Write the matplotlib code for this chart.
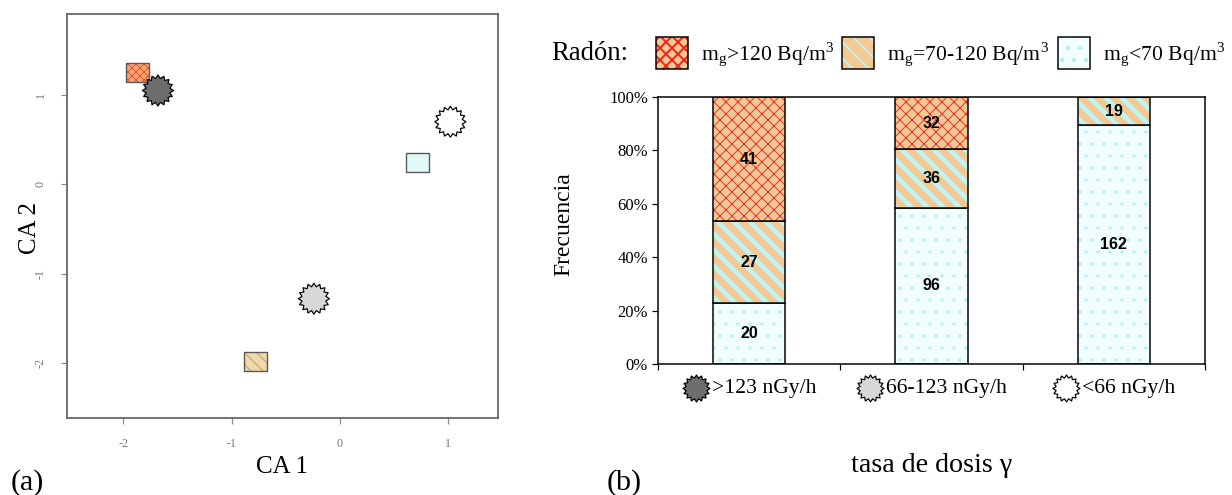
import numpy as np
import matplotlib.pyplot as plt
from matplotlib.path import Path
from matplotlib.patches import Patch
from matplotlib.lines import Line2D
from matplotlib.offsetbox import AnnotationBbox, HPacker, TextArea, DrawingArea

plt.rcParams['font.family'] = 'Liberation Serif'
plt.rcParams['mathtext.fontset'] = 'stix'
plt.rcParams['axes.unicode_minus'] = False

# --- datos panel (a): coordenadas del analisis de correspondencias ---
radon_x = [-1.87, -0.78, 0.72]
radon_y = [1.25, -1.98, 0.24]
gamma_x = [-1.68, -0.24, 1.02]
gamma_y = [1.05, -1.28, 0.70]

# --- datos panel (b): numero de casos por categoria ---
dosis = ['>123 nGy/h', '66-123 nGy/h', '<66 nGy/h']
n_bajo = np.array([20, 96, 162])    # mg < 70
n_medio = np.array([27, 36, 19])    # mg 70-120
n_alto = np.array([41, 32, 0])      # mg > 120
radon_labels = [r'm$_\mathregular{g}$>120 Bq/m$^\mathregular{3}$',
                r'm$_\mathregular{g}$=70-120 Bq/m$^\mathregular{3}$',
                r'm$_\mathregular{g}$<70 Bq/m$^\mathregular{3}$']

# estilos (alto, medio, bajo): fondo, trama, color trama, grosor trama
est_bar = [('#F2C894', 'xxxx', '#EE2A1E', 0.45),
           ('#F2C894', '\\\\\\', '#BDF4F4', 2.4),
           ('#F2FDFD', '..', '#B4F0F2', 0.5)]
est_cuad = [('#F4A878', 'xxxxxx', '#E8582C', 0.5),
            ('#EFD8AA', '\\\\\\\\', '#CDB487', 0.8),
            ('#E0FAFA', None, '#E0FAFA', 0.5)]
gris_estrella = ['#6E6E6E', '#D8D8D8', 'white']

estrella = Path.unit_regular_star(16, 0.78)
rect = Path([(-1.2, -1), (1.2, -1), (1.2, 1), (-1.2, 1), (-1.2, -1)],
            [Path.MOVETO, Path.LINETO, Path.LINETO, Path.LINETO, Path.CLOSEPOLY])

fig = plt.figure(figsize=(1232 / 144, 495 / 144), dpi=144)

# ================= panel (a) =================
ax1 = fig.add_axes([67 / 1232, 1 - 418 / 495, 431 / 1232, 404 / 495])
for i in range(3):
    fc, h, hc, hlw = est_cuad[i]
    ax1.scatter(radon_x[i], radon_y[i], s=11.5 ** 2, marker=rect, facecolor=fc,
                edgecolor='none', zorder=2)
    if h:
        with plt.rc_context({'hatch.color': hc, 'hatch.linewidth': hlw}):
            ax1.scatter(radon_x[i], radon_y[i], s=11.5 ** 2, marker=rect, facecolor='none',
                        edgecolor=hc, linewidth=0, hatch=h, zorder=2)
    ax1.scatter(radon_x[i], radon_y[i], s=11.5 ** 2, marker=rect, facecolor='none',
                edgecolor='#5A5A5A', linewidth=0.7, zorder=2)
ax1.scatter(gamma_x, gamma_y, s=15.5 ** 2, marker=estrella, c=gris_estrella,
            edgecolor='black', linewidth=0.6, zorder=3)

ax1.set_xlim(-2.52, 1.46)
ax1.set_ylim(-2.615, 1.906)
ax1.set_xticks([-2, -1, 0, 1])
ax1.set_yticks([-2, -1, 0, 1])
ax1.tick_params(colors='#888888', labelcolor='#777777', labelsize=6, length=3, width=0.6, pad=7)
for t in ax1.get_yticklabels():
    t.set_rotation(90)
    t.set_va('center')
for s in ax1.spines.values():
    s.set_color('#666666')
    s.set_linewidth(0.9)

fig.text(282 / 1232, 1 - 467 / 495, 'CA 1', ha='center', va='center', fontsize=12.5)
fig.text(30 / 1232, 1 - 228 / 495, 'CA 2', ha='center', va='center', fontsize=12.5, rotation=90)
fig.text(27 / 1232, 1 - 483 / 495, '(a)', ha='center', va='center', fontsize=15)

# ================= panel (b) =================
ax2 = fig.add_axes([658 / 1232, 1 - 364 / 495, 547 / 1232, 267 / 495])
x = np.arange(len(dosis))
total = n_bajo + n_medio + n_alto
base = np.zeros(3)
for vals, (fc, h, hc, hlw) in zip([n_bajo, n_medio, n_alto], est_bar[::-1]):
    pct = vals / total * 100
    ax2.bar(x, pct, 0.395, bottom=base, color=fc, linewidth=0)
    with plt.rc_context({'hatch.linewidth': hlw}):
        ax2.bar(x, pct, 0.395, bottom=base, fill=False, edgecolor=hc, linewidth=0, hatch=h)
    ax2.bar(x, pct, 0.395, bottom=base, fill=False, edgecolor='black', linewidth=0.75)
    for xi, b, p, v in zip(x, base, pct, vals):
        if v > 0:
            ax2.text(xi, b + p / 2, str(v), ha='center', va='center',
                     family='Liberation Sans', weight='bold', fontsize=8)
    base = base + pct

ax2.set_xlim(-0.5, 2.5)
ax2.set_ylim(0, 100)
ax2.set_xticks([-0.5, 0.5, 1.5, 2.5])
ax2.set_xticklabels([])
ax2.set_yticks(np.arange(0, 101, 20))
ax2.set_yticklabels(['%d%%' % v for v in range(0, 101, 20)])
ax2.tick_params(labelsize=8.3, length=3, width=0.6, pad=2)
for s in ax2.spines.values():
    s.set_linewidth(0.75)

# etiquetas de categoria con estrella
for xi, lab, g in zip(x, dosis, gris_estrella):
    da = DrawingArea(14, 14, 0, 0)
    da.add_artist(Line2D([7], [7], marker=estrella, markersize=13.5, markerfacecolor=g,
                         markeredgecolor='black', markeredgewidth=0.6, linestyle='none'))
    caja = HPacker(children=[da, TextArea(lab, textprops=dict(fontsize=10.8))],
                   align='center', pad=0, sep=1)
    ab = AnnotationBbox(caja, (xi, -0.09), xycoords=ax2.get_xaxis_transform(),
                        frameon=False, box_alignment=(0.5, 0.5), annotation_clip=False)
    ax2.add_artist(ab)

fig.text(564 / 1232, 1 - 224 / 495, 'Frecuencia', ha='center', va='center', fontsize=11.8, rotation=90)
fig.text(932 / 1232, 1 - 466 / 495, 'tasa de dosis γ', ha='center', va='center', fontsize=14)
fig.text(624 / 1232, 1 - 483 / 495, '(b)', ha='center', va='center', fontsize=15)

# leyenda radon
fig.text(551 / 1232, 1 - 54 / 495, 'Radón:', ha='left', va='center', fontsize=13.3)
handles = []
for fc, h, hc, hlw in est_bar:
    with plt.rc_context({'hatch.linewidth': hlw}):
        handles.append((Patch(facecolor=fc, linewidth=0),
                        Patch(fill=False, edgecolor=hc, linewidth=0, hatch=h),
                        Patch(fill=False, edgecolor='black', linewidth=0.75)))
fig.legend(handles, radon_labels, ncol=3, loc='center left',
           bbox_to_anchor=(656 / 1232, 1 - 53 / 495), frameon=False, fontsize=10.8,
           handlelength=1.47, handleheight=1.85, handletextpad=0.6, columnspacing=0.4,
           borderpad=0, borderaxespad=0)

fig.savefig('out.png', dpi=144)
